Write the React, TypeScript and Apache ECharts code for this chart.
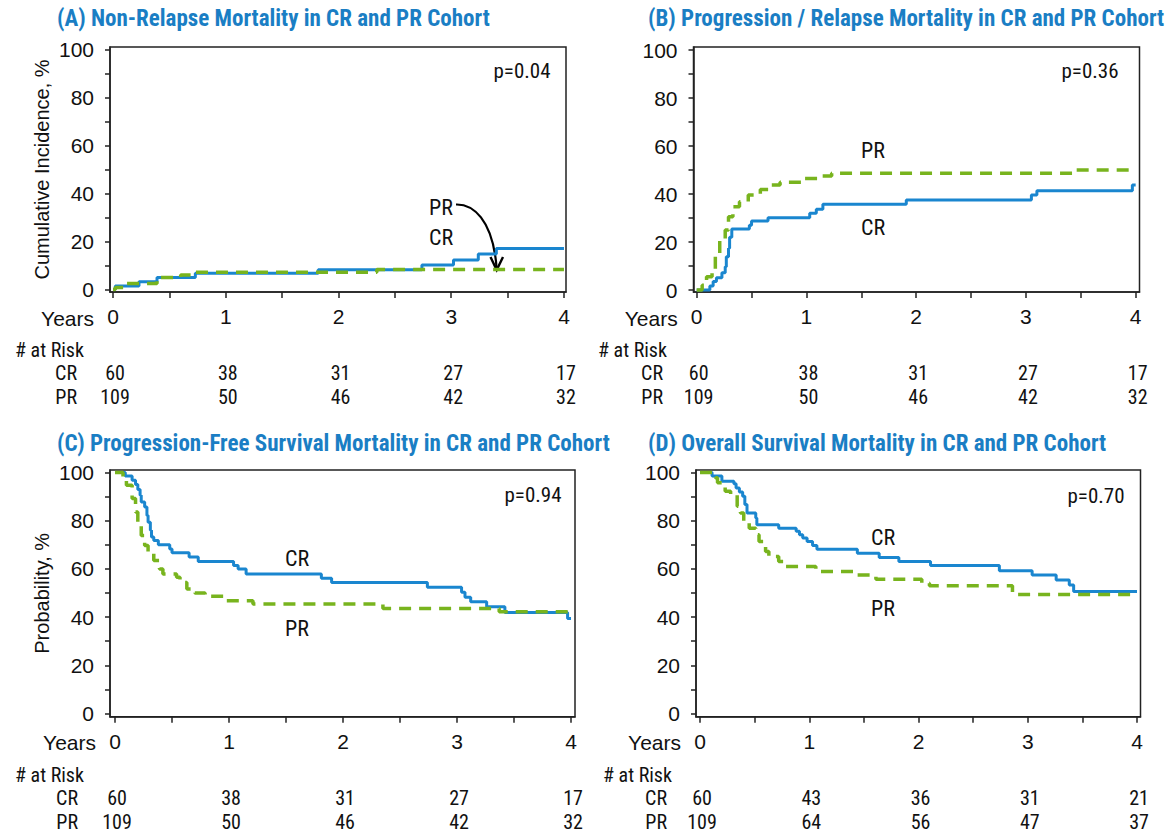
import React, { useEffect, useRef } from "react";
import * as echarts from "echarts";

// ---------- data ----------
const xTickValues = [0, 0.5, 1, 1.5, 2, 2.5, 3, 3.5, 4];
const xLabelValues = [0, 1, 2, 3, 4];
const yTickValues = [0, 10, 20, 30, 40, 50, 60, 70, 80, 90, 100];
const yLabelValues = [0, 20, 40, 60, 80, 100];

// (A) Non-relapse mortality, cumulative incidence %
const nrmCR = [[0, 0], [0.02, 1.4], [0.23, 3.2], [0.39, 5.0], [0.73, 6.7], [1.82, 8.2], [2.74, 10.2], [3.02, 12.2], [3.24, 14.7], [3.4, 17.0], [4.0, 17.0]];
const nrmPR = [[0, 0], [0.02, 0.8], [0.1, 2.5], [0.39, 5.0], [0.6, 6.0], [0.73, 7.1], [2.34, 8.3], [4.0, 8.3]];

// (B) Progression / relapse mortality, cumulative incidence %
const relCR = [[0, 0], [0.12, 1.7], [0.15, 3.5], [0.18, 5.1], [0.23, 7.2], [0.26, 9.7], [0.27, 13.9], [0.29, 17.4], [0.3, 22], [0.32, 25.4], [0.48, 27], [0.5, 28.8], [0.65, 30.1], [1.03, 32], [1.09, 33.6], [1.15, 35.7], [1.91, 37.5], [3.05, 39.6], [3.1, 41.4], [3.97, 43.7], [4.0, 43.7]];
const relPR = [[0, 0], [0.05, 2], [0.09, 5.5], [0.14, 8.3], [0.17, 13.9], [0.21, 20.8], [0.26, 25], [0.29, 30.5], [0.33, 34.7], [0.39, 36.8], [0.47, 39.6], [0.58, 41.9], [0.67, 43.7], [0.76, 44.9], [0.97, 46.5], [1.14, 47.5], [1.23, 48.6], [3.46, 50], [4.0, 50]];

// (C) Progression-free survival, probability %
const pfsCR = [[0, 100], [0.09, 98.6], [0.15, 96.8], [0.18, 95], [0.2, 93], [0.22, 90.6], [0.23, 87.8], [0.26, 85.7], [0.28, 82.2], [0.29, 79.4], [0.31, 76], [0.32, 73.2], [0.34, 71.8], [0.38, 70], [0.48, 68.3], [0.5, 66.7], [0.65, 64.9], [0.73, 63.1], [1.04, 61.4], [1.08, 60], [1.15, 57.9], [1.81, 56.1], [1.9, 54.4], [2.74, 52.4], [3.04, 50.3], [3.07, 48.2], [3.12, 46.4], [3.26, 44.3], [3.42, 41.9], [3.97, 39.4], [4.0, 39.4]];
const pfsPR = [[0, 100], [0.07, 98.2], [0.1, 94.7], [0.15, 89.2], [0.18, 83.6], [0.2, 78], [0.23, 73.9], [0.26, 69.7], [0.29, 66.3], [0.34, 63.5], [0.39, 60], [0.42, 57.9], [0.54, 56.5], [0.57, 54.4], [0.63, 51.7], [0.7, 50], [0.79, 48.6], [0.98, 46.8], [1.21, 45.4], [2.35, 43.6], [3.37, 42.2], [4.0, 42.2]];

// (D) Overall survival, probability %
const osCR = [[0, 100], [0.11, 98.5], [0.2, 96.4], [0.31, 95.3], [0.33, 93.6], [0.36, 91.9], [0.39, 90.1], [0.41, 86.7], [0.43, 83.2], [0.51, 81.1], [0.52, 78.3], [0.72, 76.9], [0.88, 75.6], [0.91, 74.2], [0.94, 72.8], [0.98, 71.4], [1.03, 69.7], [1.07, 68.2], [1.44, 66.5], [1.64, 64.7], [1.82, 63.1], [2.11, 61.4], [2.74, 59.2], [3.04, 57.5], [3.26, 55.4], [3.38, 53.3], [3.42, 50.6], [4.0, 50.6]];
const osPR = [[0, 100], [0.14, 97.8], [0.16, 95.7], [0.23, 92.2], [0.28, 90.8], [0.34, 86], [0.37, 83.2], [0.4, 79], [0.45, 76.9], [0.51, 74.2], [0.54, 71.4], [0.6, 67.2], [0.63, 65.1], [0.72, 63.1], [0.77, 61], [1.06, 58.9], [1.44, 57.5], [1.61, 55.7], [2.03, 54], [2.1, 53], [2.86, 49.4], [4.0, 49.4]];

// numbers at risk at years 0..4
const riskCR_ABC = [60, 38, 31, 27, 17];
const riskPR_ABC = [109, 50, 46, 42, 32];
const riskCR_D = [60, 43, 36, 31, 21];
const riskPR_D = [109, 64, 56, 47, 37];

const titles = [
  "(A) Non-Relapse Mortality in CR and PR Cohort",
  "(B) Progression / Relapse Mortality in CR and PR Cohort",
  "(C) Progression-Free Survival Mortality in CR and PR Cohort",
  "(D) Overall Survival Mortality in CR and PR Cohort",
];
const pValues = ["p=0.04", "p=0.36", "p=0.94", "p=0.70"];
const yNames = ["Cumulative Incidence, %", "", "Probability, %", ""];

// ---------- style / layout ----------
const BLUE = "#1a86cf";
const GREEN = "#78b41e";
const TITLE = "#1a7ec4";
const INK = "#111111";
const NARROW = "'Liberation Sans Narrow', 'Arial Narrow', 'Roboto Condensed', 'Liberation Sans', sans-serif";
const REG = "'Liberation Sans', Arial, sans-serif";

const layout = [
  { left: 110, top: 47, width: 456, height: 245, xMin: -0.027, xMax: 4.018, yMin: -1.08, yMax: 100.96, titleX: 57, titleY: 18, pX: 522, pY: 71, riskX: 15, rowRight: 77 },
  { left: 693.5, top: 47, width: 446, height: 245, xMin: -0.029, xMax: 4.035, yMin: -0.83, yMax: 101.25, titleX: 648, titleY: 18, pX: 1090, pY: 71, riskX: 598, rowRight: 663 },
  { left: 110, top: 470, width: 465, height: 246.7, xMin: -0.044, xMax: 4.035, yMin: -1.33, yMax: 101.04, titleX: 57, titleY: 443, pX: 533, pY: 495, riskX: 15, rowRight: 78 },
  { left: 696, top: 470, width: 444.5, height: 246.7, xMin: -0.037, xMax: 4.032, yMin: -1.33, yMax: 101.04, titleX: 648, titleY: 443, pX: 1096, pY: 496, riskX: 603, rowRight: 667 },
];

const curveLabels = [
  { cr: [441, 237], pr: [441, 207] },
  { cr: [873, 227], pr: [873, 150] },
  { cr: [297, 558], pr: [297, 628] },
  { cr: [883, 537], pr: [883, 608] },
];

const seriesData = [
  [nrmCR, nrmPR],
  [relCR, relPR],
  [pfsCR, pfsPR],
  [osCR, osPR],
];
const riskData = [
  [riskCR_ABC, riskPR_ABC],
  [riskCR_ABC, riskPR_ABC],
  [riskCR_ABC, riskPR_ABC],
  [riskCR_D, riskPR_D],
];

function txt(text: string, x: number, y: number, o: any = {}) {
  return {
    type: "text",
    x,
    y,
    silent: true,
    style: {
      text,
      fill: o.fill || INK,
      fontSize: o.fontSize || 20,
      fontFamily: o.fontFamily || NARROW,
      fontWeight: o.fontWeight || "normal",
      align: o.align || "center",
      verticalAlign: "middle",
    },
  };
}

export default function App() {
  const ref = useRef<HTMLDivElement>(null);
  useEffect(() => {
    if (!ref.current) return;
    const chart = echarts.init(ref.current, undefined, { renderer: "svg" });

    const grid = layout.map((l) => ({
      left: l.left,
      top: l.top,
      width: l.width,
      height: l.height,
      show: true,
      borderColor: "#222",
      borderWidth: 1.5,
      backgroundColor: "transparent",
      containLabel: false,
      outerBoundsMode: "none",
    }));

    const xAxis = layout.map((l, i) => ({
      type: "value",
      gridIndex: i,
      min: l.xMin,
      max: l.xMax,
      splitLine: { show: false },
      axisLine: { show: true, onZero: false, lineStyle: { color: "#222", width: 1.5 } },
      axisTick: { show: true, length: 6, customValues: xTickValues, lineStyle: { color: "#222", width: 1.5 } },
      axisLabel: { customValues: xLabelValues, margin: 14, fontSize: 21, fontFamily: REG, color: INK },
    }));

    const yAxis = layout.map((l, i) => ({
      type: "value",
      gridIndex: i,
      min: l.yMin,
      max: l.yMax,
      name: yNames[i],
      nameLocation: "middle",
      nameGap: 58,
      nameRotate: 90,
      nameTextStyle: { fontSize: 20, fontFamily: REG, color: INK },
      splitLine: { show: false },
      axisLine: { show: true, onZero: false, lineStyle: { color: "#222", width: 1.5 } },
      axisTick: { show: true, length: 5, customValues: yTickValues, lineStyle: { color: "#222", width: 1.5 } },
      axisLabel: { customValues: yLabelValues, margin: 16, fontSize: 21, fontFamily: REG, color: INK, padding: [5, 0, 0, 0] },
    }));

    const series: any[] = [];
    seriesData.forEach((pair, i) => {
      series.push({
        type: "line",
        name: "CR",
        xAxisIndex: i,
        yAxisIndex: i,
        step: "end",
        symbol: "none",
        data: pair[0],
        lineStyle: { color: BLUE, width: 3 },
        z: 3,
      });
      series.push({
        type: "line",
        name: "PR",
        xAxisIndex: i,
        yAxisIndex: i,
        step: "end",
        symbol: "none",
        data: pair[1],
        lineStyle: { color: GREEN, width: 3.5, type: [12, 8] },
        z: 4,
      });
    });

    chart.setOption({
      animation: false,
      backgroundColor: "#ffffff",
      grid,
      xAxis,
      yAxis,
      series,
    });

    const graphic: any[] = [];
    layout.forEach((l, i) => {
      const axisBottom = l.top + l.height;
      graphic.push(txt(titles[i], l.titleX, l.titleY, { fill: TITLE, fontWeight: "bold", fontSize: 23, align: "left" }));
      graphic.push(txt(pValues[i], l.pX, l.pY, { fontSize: 21 }));
      graphic.push(txt("CR", curveLabels[i].cr[0], curveLabels[i].cr[1], { fontSize: 22 }));
      graphic.push(txt("PR", curveLabels[i].pr[0], curveLabels[i].pr[1], { fontSize: 22 }));
      const x0 = chart.convertToPixel({ xAxisIndex: i }, 0) as number;
      graphic.push(txt("Years", x0 - 19, axisBottom + 26, { fontSize: 21, fontFamily: REG, align: "right" }));
      graphic.push(txt("# at Risk", l.riskX, axisBottom + 58, { fontSize: 20, align: "left" }));
      graphic.push(txt("CR", l.rowRight, axisBottom + 81, { fontSize: 20, align: "right" }));
      graphic.push(txt("PR", l.rowRight, axisBottom + 105, { fontSize: 20, align: "right" }));
      xLabelValues.forEach((yr, k) => {
        const px = (chart.convertToPixel({ xAxisIndex: i }, yr) as number) + 2;
        graphic.push(txt(String(riskData[i][0][k]), px, axisBottom + 81, { fontSize: 20 }));
        graphic.push(txt(String(riskData[i][1][k]), px, axisBottom + 105, { fontSize: 20 }));
      });
    });

    // arrow in panel A from "PR" label to the PR curve
    graphic.push({
      type: "bezierCurve",
      silent: true,
      shape: { x1: 456, y1: 204.5, cpx1: 472, cpy1: 204, cpx2: 493, cpy2: 218, x2: 496.7, y2: 269 },
      style: { stroke: "#000", lineWidth: 2.2, fill: "none" },
    });
    graphic.push({
      type: "polyline",
      silent: true,
      shape: { points: [[490.5, 257], [496.7, 270], [503, 257]] },
      style: { stroke: "#000", lineWidth: 2.4, fill: "none" },
    });

    chart.setOption({ graphic });

    return () => chart.dispose();
  }, []);

  return (
    <div
      ref={ref}
      style={{ position: "absolute", left: 0, top: 0, width: 1176, height: 833, background: "#fff" }}
    />
  );
}
